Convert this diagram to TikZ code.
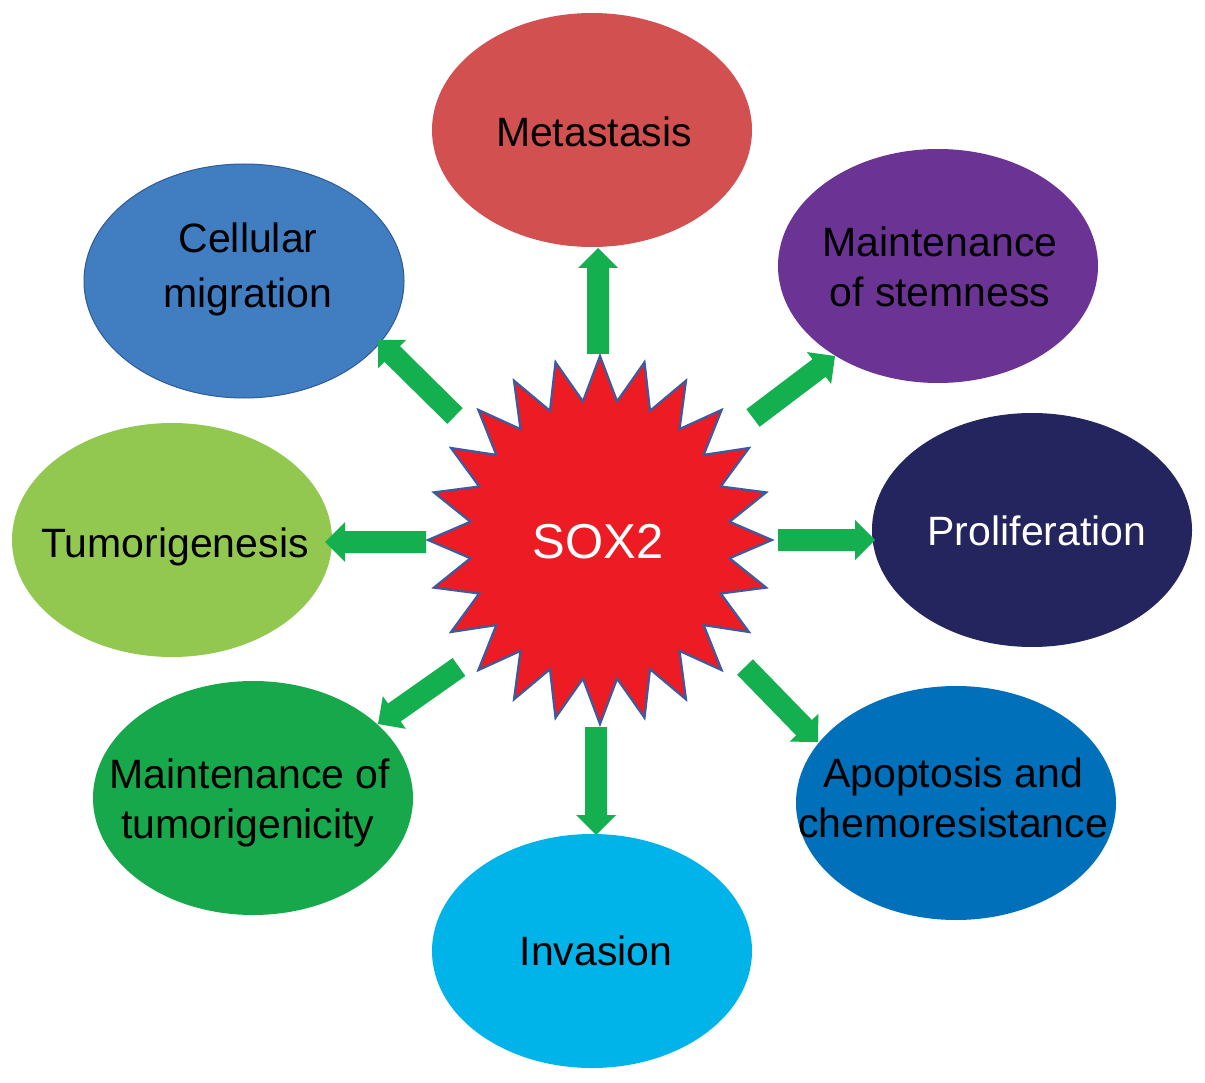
\documentclass[tikz,border=0pt]{standalone}
\usepackage{fontspec}
\setmainfont{Liberation Sans}
\usetikzlibrary{shapes.geometric,calc}
\definecolor{cMet}{RGB}{210,80,80}
\definecolor{cStem}{RGB}{107,52,148}
\definecolor{cProl}{RGB}{36,37,94}
\definecolor{cApop}{RGB}{0,112,186}
\definecolor{cInv}{RGB}{0,180,234}
\definecolor{cTgy}{RGB}{22,168,74}
\definecolor{cTgs}{RGB}{146,200,80}
\definecolor{cMig}{RGB}{64,125,193}
\definecolor{cMigB}{RGB}{46,92,148}
\definecolor{cArrow}{RGB}{20,176,80}
\definecolor{cStar}{RGB}{237,28,36}
\definecolor{cStarB}{RGB}{60,90,160}
\tikzset{
  blob/.style={ellipse, minimum width=320pt, minimum height=234pt, inner sep=0pt, outer sep=0pt, draw=none},
  txt/.style={anchor=base, inner sep=0pt, font=\fontsize{41}{48}\selectfont, text=black},
  blockarrow/.style={fill=cArrow, draw=none}
}
\newcommand\blockarr[2]{%
  \fill[blockarrow]
    ($(#1)!11pt!90:(#2)$) --
    ($(#2)!20pt!(#1)!11pt!-90:(#1)$) --
    ($(#2)!20pt!(#1)!20pt!-90:(#1)$) --
    (#2) --
    ($(#2)!20pt!(#1)!20pt!90:(#1)$) --
    ($(#2)!20pt!(#1)!11pt!90:(#1)$) --
    ($(#1)!11pt!-90:(#2)$) -- cycle;}
\begin{document}
\begin{tikzpicture}[x=1pt,y=-1pt]
\fill[white] (0,0) rectangle (1205,1083);
\useasboundingbox (0,0) rectangle (1205,1083);

% ellipses
\node[blob, fill=cMet]  (met)  at (592,130) {};
\node[blob, fill=cStem] (stem) at (938,266) {};
\node[blob, fill=cProl] (prol) at (1032,530) {};
\node[blob, fill=cApop] (apop) at (956,803) {};
\node[blob, fill=cInv]  (inv)  at (592,951) {};
\node[blob, fill=cTgy]  (tgy)  at (253,798) {};
\node[blob, fill=cTgs]  (tgs)  at (172,540) {};
\node[blob, fill=cMig, draw=cMigB, line width=1pt] (mig) at (244,281) {};

% labels
\node[txt] (tMet) at (594,147) {Metastasis};
\node[txt] (tStem1) at (940,257) {Maintenance};
\node[txt] (tStem2) at (940,307) {of stemness};
\node[txt, text=white] (tProl) at (1037,545) {Proliferation};
\node[txt] (tApop1) at (953,787) {Apoptosis and};
\node[txt] (tApop2) at (953,837) {chemoresistance};
\node[txt] (tInv) at (596,965) {Invasion};
\node[txt] (tTgy1) at (250,788) {Maintenance of};
\node[txt] (tTgy2) at (248,838) {tumorigenicity};
\node[txt] (tTgs) at (175,557) {Tumorigenesis};
\node[txt] (tMig1) at (248,253) {Cellular};
\node[txt] (tMig2) at (248,308) {migration};

% star
\coordinate (sox) at (600,540);
\draw[fill=cStar, draw=cStarB, line width=2.2pt, line join=miter]
  plot[samples at={0,...,47}, variable=\k]
  ({600+172*(1-0.24*mod(\k,2))*cos(7.5*\k)}, {540+184*(1-0.24*mod(\k,2))*sin(7.5*\k)}) -- cycle;
\node[txt, text=white, font=\fontsize{49}{56}\selectfont] (tSox) at (598,558) {SOX2};

% arrow end points
\coordinate (aU0) at (598,354);  \coordinate (aU1) at (598,248);
\coordinate (aNE0) at (753,418); \coordinate (aNE1) at (835,356);
\coordinate (aR0) at (778,540);  \coordinate (aR1) at (875,540);
\coordinate (aSE0) at (745,667); \coordinate (aSE1) at (818,742);
\coordinate (aD0) at (596,727);  \coordinate (aD1) at (596,835);
\coordinate (aSW0) at (459,667); \coordinate (aSW1) at (378,724);
\coordinate (aL0) at (426,542);  \coordinate (aL1) at (325,542);
\coordinate (aNW0) at (455,416); \coordinate (aNW1) at (378,340);

\blockarr{aU0}{aU1}
\blockarr{aNE0}{aNE1}
\blockarr{aR0}{aR1}
\blockarr{aSE0}{aSE1}
\blockarr{aD0}{aD1}
\blockarr{aSW0}{aSW1}
\blockarr{aL0}{aL1}
\blockarr{aNW0}{aNW1}
\end{tikzpicture}
\end{document}
